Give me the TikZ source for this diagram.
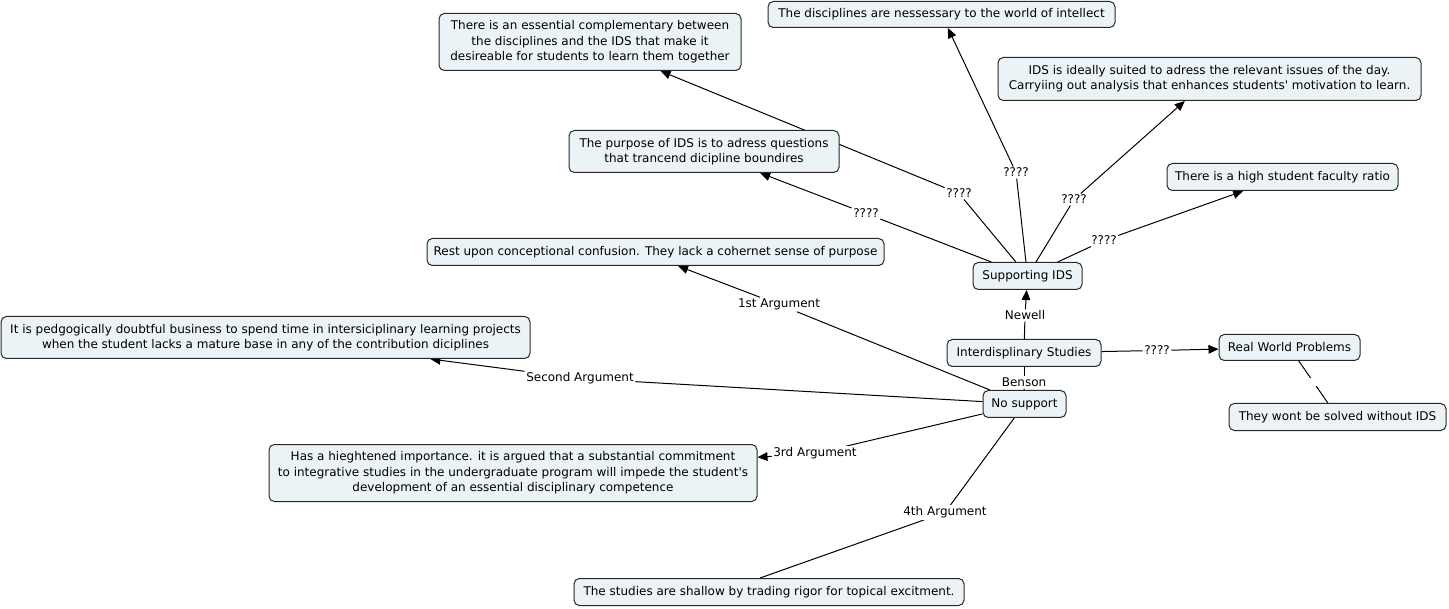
\documentclass[tikz,border=0pt]{standalone}
\usepackage{fontspec}
\setmainfont{DejaVu Sans}
\usetikzlibrary{arrows.meta}
\pgfdeclarelayer{bg}
\pgfsetlayers{bg,main}
\definecolor{boxfill}{RGB}{236,243,246}
\definecolor{boxline}{RGB}{40,40,40}
\tikzset{
  box/.style={draw=boxline, fill=boxfill, rounded corners=4pt, line width=0.75pt, align=center, inner sep=2pt},
  wh/.style 2 args={minimum width=#1*0.75pt, minimum height=#2*0.75pt},
  lbl/.style={fill=white, inner sep=1pt},
  conn/.style={draw=black, line width=0.75pt},
  arr/.style={conn, -{Triangle[length=7.5pt,width=6.5pt]}},
}
\begin{document}
\begin{tikzpicture}[x=0.75pt,y=-0.75pt,font=\fontsize{9pt}{11.5pt}\selectfont]
\useasboundingbox (0,0) rectangle (1449,609);
% concept boxes
\node[box,wh={302}{57}] (n1) at (590,42) {There is an essential complementary between\\the disciplines and the IDS that make it\\desireable for students to learn them together};
\node[box,wh={347}{26}] (n2) at (941.5,14.5) {The disciplines are nessessary to the world of intellect};
\node[box,wh={423}{43}] (n3) at (1209.5,79) {IDS is ideally suited to adress the relevant issues of the day.\\Carryiing out analysis that enhances students\textquotesingle\ motivation to learn.};
\node[box,wh={270}{42}] (n4) at (704,151.5) {The purpose of IDS is to adress questions\\that trancend dicipline boundires};
\node[box,wh={231}{27}] (n5) at (1282.5,177) {There is a high student faculty ratio};
\node[box,wh={457}{27}] (n6) at (655.5,252) {Rest upon conceptional confusion. They lack a cohernet sense of purpose};
\node[box,wh={109}{27}] (sup) at (1027.5,276) {Supporting IDS};
\node[box,wh={529}{42}] (n8) at (265.5,337.5) {It is pedgogically doubtful business to spend time in intersiciplinary learning projects\\when the student lacks a mature base in any of the contribution diciplines};
\node[box,wh={154}{27}] (ids) at (1024,353) {Interdisplinary Studies};
\node[box,wh={141}{26}] (rwp) at (1289.5,347.5) {Real World Problems};
\node[box,wh={83}{27}] (ns) at (1024.5,404) {No support};
\node[box,wh={217}{27}] (n12) at (1337.5,417) {They wont be solved without IDS};
\node[box,wh={488}{57}] (n13) at (513,473) {Has a hieghtened importance. it is argued that a substantial commitment\\to integrative studies in the undergraduate program will impede the student\textquotesingle s\\development of an essential disciplinary competence};
\node[box,wh={390}{27}] (n14) at (769,592) {The studies are shallow by trading rigor for topical excitment.};
% linking phrases
\node[lbl] (l1) at (866,213.5) {????};
\node[lbl] (l2) at (959,193.5) {????};
\node[lbl] (l3) at (1016,172.5) {????};
\node[lbl] (l4) at (1074,199.5) {????};
\node[lbl] (l5) at (1104,240.5) {????};
\node[lbl] (newell) at (1025,315.5) {Newell};
\node[lbl] (benson) at (1024,382.5) {Benson};
\node[lbl] (l7) at (1157,350.5) {????};
\node[lbl] (a1) at (779,304.5) {1st Argument};
\node[lbl] (a2) at (580,378.5) {Second Argument};
\node[lbl] (a3) at (815,453.5) {3rd Argument};
\node[lbl] (a4) at (945,512.5) {4th Argument};
\begin{pgfonlayer}{bg}
\draw[conn] (sup) -- (l1); \draw[arr] (l1) -- (n4);
\draw[conn] (sup) -- (l2); \draw[arr] (l2) -- (n1);
\draw[conn] (sup) -- (l3); \draw[arr] (l3) -- (n2);
\draw[conn] (sup) -- (l4); \draw[arr] (l4) -- (n3);
\draw[conn] (sup) -- (l5); \draw[arr] (l5) -- (n5);
\draw[conn] (ids) -- (newell); \draw[arr] (newell) -- (sup);
\draw[conn] (ids) -- (benson); \draw[conn] (benson) -- (ns);
\draw[conn] (ids) -- (l7); \draw[arr] (l7) -- (rwp);
\draw[conn] (rwp) -- node[fill=white, inner sep=0pt, minimum size=6pt]{} (n12);
\draw[conn] (ns) -- (a1); \draw[arr] (a1) -- ([xshift=16.9pt]n6.south);
\draw[conn] (ns) -- (a2); \draw[arr] (a2) -- (n8);
\draw[conn] (ns) -- (a3); \draw[arr] (a3) -- (n13);
\draw[conn] (ns) -- (a4); \draw[conn] (a4) -- ([xshift=-6.75pt]n14.north);
\end{pgfonlayer}
\end{tikzpicture}
\end{document}
